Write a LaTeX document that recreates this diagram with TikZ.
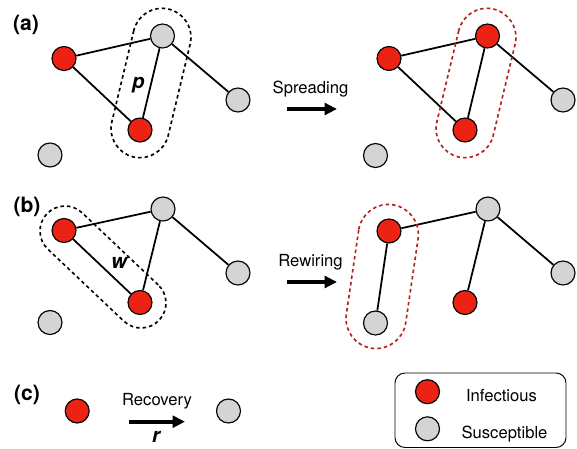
\documentclass[tikz,border=0pt]{standalone}
\usepackage{fontspec}
\setmainfont{TeX Gyre Heros}
\usetikzlibrary{arrows.meta}

\definecolor{infred}{RGB}{236,34,18}
\definecolor{susgray}{RGB}{212,212,212}
\definecolor{capred}{RGB}{182,32,28}

\tikzset{
    inf/.style={circle, draw, line width=1pt, fill=infred, minimum size=0.72cm, inner sep=0pt},
    sus/.style={inf, fill=susgray},
    link/.style={line width=1.5pt},
    capsule/.style={draw, rectangle, inner sep=0pt, line width=1.4pt, dash pattern=on 3pt off 2.6pt},
    trans/.style={line width=3.2pt, -{Triangle[length=10.5pt, width=10pt]}},
    panel/.style={font=\fontsize{18}{20}\selectfont\bfseries},
    rate/.style={font=\fontsize{17.5}{20}\selectfont\bfseries\itshape},
}

\begin{document}
\begin{tikzpicture}[x=0.03cm, y=-0.03cm, font=\fontsize{14.2}{17}\selectfont]
        \useasboundingbox (0,0) rectangle (577,449);

        \node[panel] (pa) at (26,25) {(a)};
        \node[inf] (a1) at (64,58.5) {};
        \node[sus] (a2) at (162.5,36) {};
        \node[inf] (a3) at (140,130) {};
        \node[sus] (a4) at (238,100) {};
        \node[sus] (a5) at (50,155) {};
        \draw[link] (a1) -- (a2) (a1) -- (a3) (a2) -- (a3) (a2) -- (a4);
        \node[capsule, minimum width=4.56cm, minimum height=1.74cm, rounded corners=0.87cm, rotate=76.5] (ca) at (151,83) {};
        \node[rate] (p) at (138.3,85.5) {p};

        \node[inf] (s1) at (389,58.5) {};
        \node[inf] (s2) at (487.5,36) {};
        \node[inf] (s3) at (465,130) {};
        \node[sus] (s4) at (563,100) {};
        \node[sus] (s5) at (375.5,155.5) {};
        \draw[link] (s1) -- (s2) (s1) -- (s3) (s2) -- (s3) (s2) -- (s4);
        \node[capsule, draw=capred, minimum width=4.56cm, minimum height=1.74cm, rounded corners=0.87cm, rotate=76.5] (cs) at (476,83) {};

        \node[anchor=base] (tspr) at (310.5,93.5) {Spreading};
        \coordinate (spr0) at (287,109);
        \coordinate (spr1) at (337,109);
        \draw[trans] (spr0) -- (spr1);

        \node[panel] (pb) at (27,206.5) {(b)};
        \node[inf] (b1) at (64,230.5) {};
        \node[sus] (b2) at (163,209) {};
        \node[inf] (b3) at (140,302.5) {};
        \node[sus] (b4) at (238,273) {};
        \node[sus] (b5) at (50,322.5) {};
        \draw[link] (b1) -- (b2) (b1) -- (b3) (b2) -- (b3) (b2) -- (b4);
        \node[capsule, minimum width=4.64cm, minimum height=1.5cm, rounded corners=0.75cm, rotate=-43.45] (cb) at (103,267) {};
        \node[rate] (w) at (119.2,263) {w};

        \node[inf] (w1) at (389,231) {};
        \node[sus] (w2) at (488,209) {};
        \node[inf] (w3) at (465,302.5) {};
        \node[sus] (w4) at (563,273) {};
        \node[sus] (w5) at (375.5,323) {};
        \draw[link] (w1) -- (w2) (w2) -- (w3) (w2) -- (w4) (w1) -- (w5);
        \node[capsule, draw=capred, minimum width=4.35cm, minimum height=1.8cm, rounded corners=0.9cm, rotate=81.65] (cw) at (382.2,276.5) {};

        \node[anchor=base] (trew) at (310.5,266.5) {Rewiring};
        \coordinate (rew0) at (287,282);
        \coordinate (rew1) at (337,282);
        \draw[trans] (rew0) -- (rew1);

        \node[panel] (pc) at (27,395) {(c)};
        \node[inf] (c1) at (77.2,411) {};
        \node[sus] (c2) at (228.5,411) {};
        \node[anchor=base] (trec) at (157,405.5) {Recovery};
        \coordinate (rec0) at (129,421.7);
        \coordinate (rec1) at (185,421.7);
        \draw[trans] (rec0) -- (rec1);
        \node[rate] (r) at (156,436.5) {r};

        \draw[line width=0.8pt, rounded corners=0.3cm] (395,373) rectangle (566,447.5);
        \node[inf] (l1) at (427.5,391.7) {};
        \node[sus] (l2) at (427.5,428.8) {};
        \node[anchor=base] (tinf) at (501.5,401) {Infectious};
        \node[anchor=base] (tsus) at (504.5,438) {Susceptible};
\end{tikzpicture}
\end{document}
